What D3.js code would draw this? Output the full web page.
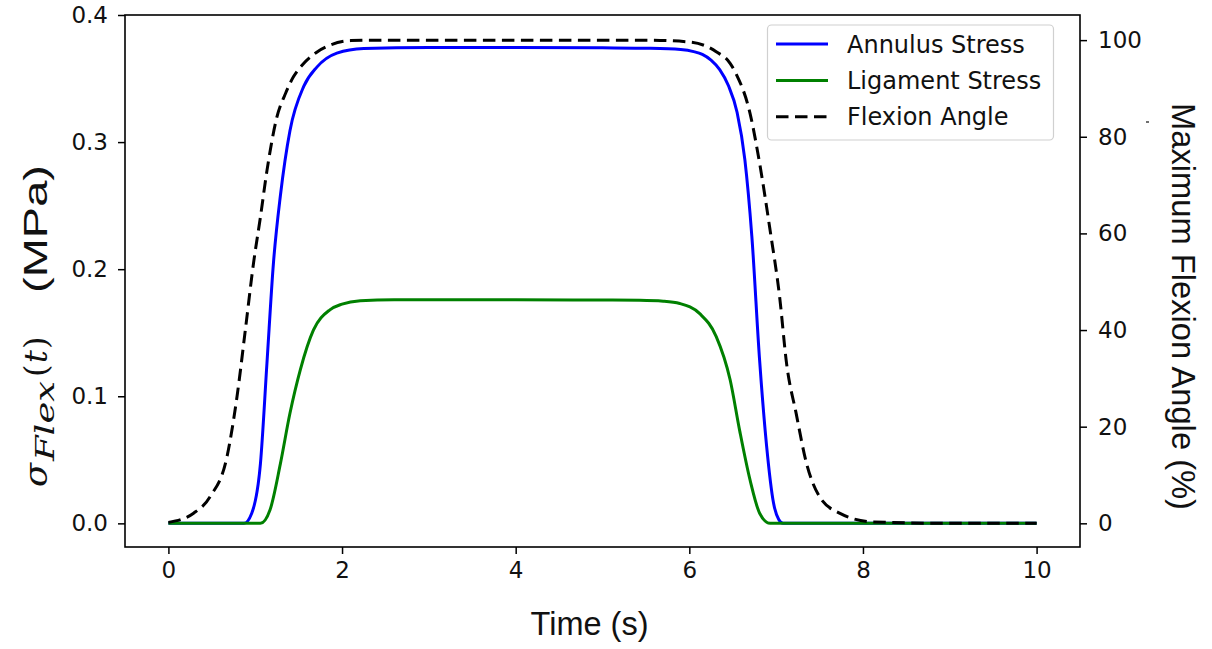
<!DOCTYPE html>
<html>
<head>
<meta charset="utf-8">
<script src="https://cdn.jsdelivr.net/npm/d3@7"></script>
<style>
  html, body { margin: 0; padding: 0; background: #fff; }
  svg { display: block; }
</style>
</head>
<body>
<svg id="chart" width="1212" height="649"></svg>
<script>
// ---- Data ----
const annulusTime   = [0, 0.5, 0.87, 0.96, 1.06, 1.135, 1.21, 1.29, 1.40, 1.56, 1.71, 1.94, 2.25, 3, 4, 5, 5.55, 5.9, 6.05, 6.15, 6.25, 6.35, 6.45, 6.55, 6.64, 6.72, 6.81, 6.89, 6.97, 7.03, 7.08, 7.5, 8, 9, 10];
const annulusStress = [0, 0, 0, 0.008, 0.047, 0.126, 0.205, 0.258, 0.309, 0.344, 0.359, 0.370, 0.3737, 0.3745, 0.3745, 0.3742, 0.3738, 0.3728, 0.3712, 0.369, 0.3645, 0.357, 0.3445, 0.3235, 0.286, 0.226, 0.128, 0.061, 0.016, 0.003, 0, 0, 0, 0, 0];

const ligamentTime   = [0, 0.5, 1.06, 1.17, 1.29, 1.40, 1.52, 1.67, 1.86, 2.0, 2.21, 2.6, 3, 4, 5, 5.43, 5.7, 5.89, 6.12, 6.31, 6.47, 6.58, 6.70, 6.81, 6.93, 8, 9, 10];
const ligamentStress = [0, 0, 0, 0.0105, 0.047, 0.0866, 0.121, 0.152, 0.168, 0.1725, 0.1752, 0.176, 0.176, 0.176, 0.1757, 0.1755, 0.1748, 0.173, 0.165, 0.147, 0.113, 0.073, 0.034, 0.008, 0, 0, 0, 0];

const flexionTime  = [0, 0.29, 0.48, 0.675, 0.79, 0.886, 0.98, 1.06, 1.136, 1.25, 1.35, 1.44, 1.55, 1.70, 1.87, 2.1, 2.5, 3, 4, 5, 5.5, 6.01, 6.31, 6.47, 6.54, 6.70, 6.81, 6.93, 7.04, 7.12, 7.23, 7.35, 7.50, 7.73, 8.11, 9, 10];
const flexionAngle = [0.2, 2.1, 5.5, 13.8, 26.2, 40, 53.8, 63.4, 73.1, 84.1, 89.0, 92.4, 95.0, 97.4, 99.0, 99.9, 100, 100, 100, 100, 100, 99.6, 97.6, 95.2, 93.0, 84.8, 74.5, 60.7, 46.9, 33.1, 22.8, 12.4, 5.5, 2.1, 0.3, 0, 0];

const xTicks      = [0, 2, 4, 6, 8, 10];
const yLeftTicks  = [0.0, 0.1, 0.2, 0.3, 0.4];
const yRightTicks = [0, 20, 40, 60, 80, 100];

const seriesNames = ["Annulus Stress", "Ligament Stress", "Flexion Angle"];
const seriesColors = ["#0000ff", "#008000", "#000000"];

// ---- Layout ----
const svg = d3.select("#chart");
const L = 125, R = 1080, T = 15, B = 547;

const x = d3.scaleLinear().domain([-0.5, 10.5]).range([L, R]);
const yL = d3.scaleLinear().domain([-0.0186, 0.4]).range([B, T]);
const yR = d3.scaleLinear().domain([-4.9, 105.2]).range([B, T]);

const tickFont = "'DejaVu Sans', sans-serif";

// Axes
const xAxis = svg.append("g").attr("transform", `translate(0,${B})`)
  .call(d3.axisBottom(x).tickValues(xTicks).tickFormat(d3.format("d")).tickSizeInner(7).tickSizeOuter(0).tickPadding(6));
const yAxisL = svg.append("g").attr("transform", `translate(${L},0)`)
  .call(d3.axisLeft(yL).tickValues(yLeftTicks).tickFormat(d3.format(".1f")).tickSizeInner(7).tickSizeOuter(0).tickPadding(10));
const yAxisR = svg.append("g").attr("transform", `translate(${R},0)`)
  .call(d3.axisRight(yR).tickValues(yRightTicks).tickFormat(d3.format("d")).tickSizeInner(7).tickSizeOuter(0).tickPadding(11));

[xAxis, yAxisL, yAxisR].forEach(g => {
  g.select(".domain").remove();
  g.selectAll(".tick line").attr("stroke", "#000").attr("stroke-width", 1.5);
  g.selectAll(".tick text").attr("font-family", tickFont).attr("font-size", 23).attr("fill", "#111");
});
xAxis.selectAll(".tick text").attr("dy", "0.78em");

// Spines (frame)
svg.append("rect").attr("x", L).attr("y", T).attr("width", R - L).attr("height", B - T)
  .attr("fill", "none").attr("stroke", "#000").attr("stroke-width", 1.6);

// Lines
const plot = svg.append("g");
const lineL = d3.line().x(d => x(d[0])).y(d => yL(d[1])).curve(d3.curveMonotoneX);
const lineR = d3.line().x(d => x(d[0])).y(d => yR(d[1])).curve(d3.curveMonotoneX);

plot.append("path").datum(d3.zip(annulusTime, annulusStress)).attr("d", lineL)
  .attr("fill", "none").attr("stroke", seriesColors[0]).attr("stroke-width", 3);
plot.append("path").datum(d3.zip(ligamentTime, ligamentStress)).attr("d", lineL)
  .attr("fill", "none").attr("stroke", seriesColors[1]).attr("stroke-width", 3);
plot.append("path").datum(d3.zip(flexionTime, flexionAngle)).attr("d", lineR)
  .attr("fill", "none").attr("stroke", seriesColors[2]).attr("stroke-width", 3)
  .attr("stroke-dasharray", "12.5,6.5");

// Legend
const leg = svg.append("g");
leg.append("rect").attr("x", 767.5).attr("y", 25).attr("width", 286).attr("height", 115)
  .attr("rx", 4).attr("fill", "#fff").attr("fill-opacity", 0.85)
  .attr("stroke", "#d0d0d0").attr("stroke-width", 1.2);
seriesNames.forEach((name, i) => {
  const cy = 44 + i * 36.4;
  leg.append("line").attr("x1", 776).attr("x2", 828).attr("y1", cy).attr("y2", cy)
    .attr("stroke", seriesColors[i]).attr("stroke-width", 3)
    .attr("stroke-dasharray", i === 2 ? "12.5,6.5" : null);
  leg.append("text").attr("x", 847).attr("y", cy + 8.5).text(name)
    .attr("font-family", tickFont).attr("font-size", 24).attr("fill", "#111");
});

// Axis labels
svg.append("text").attr("x", 589.5).attr("y", 635).attr("text-anchor", "middle")
  .attr("font-family", "'Liberation Sans', Arial, sans-serif").attr("font-size", 32.5)
  .attr("fill", "#111").text("Time (s)");

svg.append("text").attr("transform", "translate(1172,306.5) rotate(90)").attr("text-anchor", "middle")
  .attr("font-family", "'Liberation Sans', Arial, sans-serif").attr("font-size", 32.5)
  .attr("textLength", 407).attr("lengthAdjust", "spacingAndGlyphs")
  .attr("fill", "#111").text("Maximum Flexion Angle (%)");

// small stray mark near right label
svg.append("line").attr("x1", 1146).attr("x2", 1149).attr("y1", 122).attr("y2", 122)
  .attr("stroke", "#333").attr("stroke-width", 1.4);

// Left label: σ_Flex(t) (MPa)
const yl = svg.append("g").attr("transform", "translate(46.5,487) rotate(-90)");
const serif = "'DejaVu Serif', serif";
yl.append("text").attr("x", 0).attr("y", 0).text("σ")
  .attr("font-family", serif).attr("font-style", "italic").attr("font-size", 32)
  .attr("textLength", 24).attr("lengthAdjust", "spacingAndGlyphs").attr("fill", "#111");
yl.append("text").attr("x", 26).attr("y", 7).text("Flex")
  .attr("font-family", serif).attr("font-style", "italic").attr("font-size", 26)
  .attr("textLength", 80).attr("lengthAdjust", "spacingAndGlyphs").attr("fill", "#111");
yl.append("text").attr("x", 110).attr("y", 0).text("(")
  .attr("font-family", serif).attr("font-size", 32).attr("fill", "#111");
yl.append("text").attr("x", 124).attr("y", 0).text("t")
  .attr("font-family", serif).attr("font-style", "italic").attr("font-size", 32).attr("fill", "#111");
yl.append("text").attr("x", 138).attr("y", 0).text(")")
  .attr("font-family", serif).attr("font-size", 32).attr("fill", "#111");
yl.append("text").attr("x", 194).attr("y", 0).text("(MPa)")
  .attr("font-family", "'Liberation Sans', Arial, sans-serif").attr("font-size", 33)
  .attr("textLength", 128).attr("lengthAdjust", "spacingAndGlyphs").attr("fill", "#111");
</script>
</body>
</html>
